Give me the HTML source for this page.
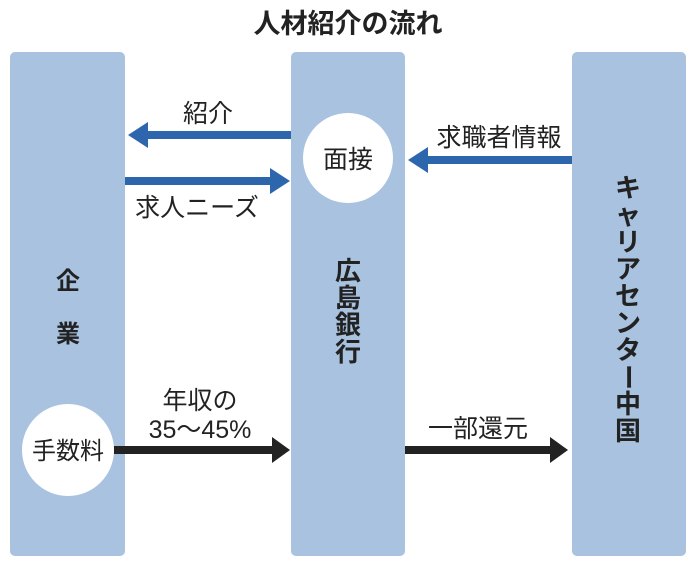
<!DOCTYPE html>
<html><head><meta charset="utf-8"><style>
body{margin:0;width:696px;height:567px;background:#fff;overflow:hidden}
svg{display:block}
text{font-family:"Liberation Sans","Noto Sans CJK JP",sans-serif;fill:#222}
</style></head><body>
<svg width="696" height="567" viewBox="0 0 696 567">
<text x="348" y="33" font-size="27" font-weight="bold" text-anchor="middle">人材紹介の流れ</text>
<rect x="10" y="52" width="115" height="504" rx="5" fill="#a8c2e0"/>
<rect x="291" y="52" width="114" height="504" rx="5" fill="#a8c2e0"/>
<rect x="572" y="52" width="114" height="504" rx="5" fill="#a8c2e0"/>
<ellipse cx="348" cy="158" rx="45" ry="45" fill="#fff"/>
<text x="348" y="168" font-size="25" text-anchor="middle">面接</text>
<ellipse cx="68" cy="450" rx="46" ry="46" fill="#fff"/>
<text x="68" y="459" font-size="24" text-anchor="middle">手数料</text>
<rect x="146" y="131" width="145" height="8" fill="#2e66ad"/>
<polygon points="128,135 148,122 148,148" fill="#2e66ad"/>
<rect x="125" y="177" width="146" height="8" fill="#2e66ad"/>
<polygon points="290,181 270,168 270,194" fill="#2e66ad"/>
<rect x="426" y="156" width="146" height="8" fill="#2e66ad"/>
<polygon points="408,160 428,147 428,173" fill="#2e66ad"/>
<text x="208" y="122" font-size="25" text-anchor="middle">紹介</text>
<text x="197" y="216" font-size="25" text-anchor="middle">求人ニーズ</text>
<text x="499" y="146" font-size="25" text-anchor="middle">求職者情報</text>
<rect x="114" y="446" width="160" height="8" fill="#222"/>
<polygon points="290,450 272,437 272,463" fill="#222"/>
<rect x="405" y="446" width="148" height="8" fill="#222"/>
<polygon points="568,450 550,437 550,463" fill="#222"/>
<text x="200" y="409" font-size="25" text-anchor="middle">年収の</text>
<text x="200" y="438" font-size="25" text-anchor="middle">35〜45%</text>
<text x="478" y="437" font-size="25" text-anchor="middle">一部還元</text>
<text x="68" y="289" font-size="24" font-weight="bold" text-anchor="middle">企</text>
<text x="68" y="342" font-size="24" font-weight="bold" text-anchor="middle">業</text>
<g font-size="26" font-weight="bold" text-anchor="middle">
<text x="348" y="280">広</text><text x="348" y="307">島</text><text x="348" y="334">銀</text><text x="348" y="361">行</text>
</g>
<g font-size="26" font-weight="bold" text-anchor="middle">
<text x="628" y="197">キ</text><text x="628" y="224">ャ</text><text x="628" y="251">リ</text><text x="628" y="278">ア</text><text x="628" y="305">セ</text><text x="628" y="332">ン</text><text x="628" y="359">タ</text><text x="628" y="386" transform="rotate(90 628 377)">ー</text><text x="628" y="413">中</text><text x="628" y="440">国</text>
</g>
</svg>
</body></html>
